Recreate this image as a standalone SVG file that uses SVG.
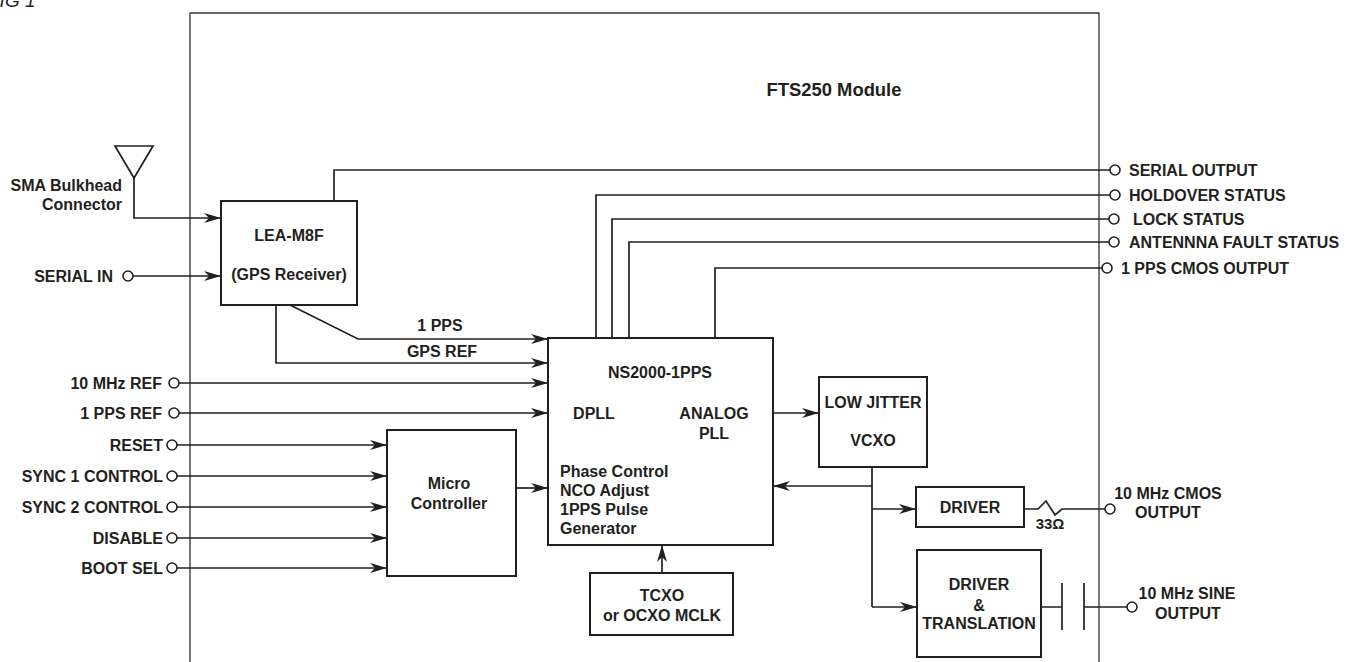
<svg xmlns="http://www.w3.org/2000/svg" width="1347" height="662" viewBox="0 0 1347 662">
<style>
text{font-family:"Liberation Sans",Arial,sans-serif;font-weight:bold;font-size:16px;fill:#231f20}
.c{text-anchor:middle}
.e{text-anchor:end}
.box{fill:#fff;stroke:#231f20;stroke-width:2}
.ln{fill:none;stroke:#231f20;stroke-width:1.7}
.ar{marker-end:url(#ah)}
.pin{fill:#fff;stroke:#231f20;stroke-width:1.6}
</style>
<defs>
<marker id="ah" markerUnits="userSpaceOnUse" markerWidth="18" markerHeight="12" refX="17" refY="6" orient="auto">
<path d="M0,1 L17,6 L0,11 L5,6 z" fill="#231f20"/>
</marker>
</defs>
<rect width="1347" height="662" fill="#fff"/>
<text x="-12" y="7" style="font-style:italic;font-weight:normal;font-size:19px">FIG 1</text>
<g id="frame">
<path d="M190,662 L190,13 L1099,13 L1099,662" fill="none" stroke="#333" stroke-width="1.3"/>
<text class="c" x="834" y="96" style="font-size:18.4px">FTS250 Module</text>
</g>
<g id="connectors">
<path class="ln ar" d="M134,178 L134,218 L221,218"/>
<path class="ln ar" d="M133,276 L221,276"/>
<path class="ln" d="M334,201 L334,170 L1110,170"/>
<path class="ln" d="M596,338 L596,195 L1110,195"/>
<path class="ln" d="M612,338 L612,219 L1109,219"/>
<path class="ln" d="M629,338 L629,242 L1109,242"/>
<path class="ln" d="M715,338 L715,268 L1102,268"/>
<path class="ln ar" d="M290,305 L358,339 L548,339"/>
<path class="ln ar" d="M276,305 L276,363 L548,363"/>
<text class="c" x="440" y="331">1 PPS</text>
<text class="c" x="442" y="357">GPS REF</text>
<path class="ln ar" d="M179,383 L548,383"/>
<path class="ln ar" d="M179,413 L548,413"/>
<path class="ln ar" d="M177,445 L387,445"/>
<path class="ln ar" d="M177,476 L387,476"/>
<path class="ln ar" d="M177,507 L387,507"/>
<path class="ln ar" d="M177,538 L387,538"/>
<path class="ln ar" d="M177,568 L387,568"/>
<path class="ln ar" d="M516,488 L548,488"/>
<path class="ln ar" d="M635,413 L667,413"/>
<path class="ln ar" d="M773,413 L819,413"/>
<path class="ln" d="M872,467 L872,607"/>
<path class="ln ar" d="M872,486 L773,486"/>
<path class="ln ar" d="M872,509 L916,509"/>
<path class="ln ar" d="M872,607 L917,607"/>
<path class="ln" d="M1024,509 L1038,509 L1046,501 L1055,515 L1062,509 L1105,509"/>
<path class="ln" d="M1041,607 L1062,607 M1062,583 L1062,630 M1084,583 L1084,630 M1084,607 L1127,607"/>
<path class="ln ar" d="M662,573 L662,545"/>
</g>
<g id="antenna">
<path d="M115,146 L153,146 L134,178 Z" fill="none" stroke="#231f20" stroke-width="1.7"/>
<text class="e" x="122" y="191">SMA Bulkhead</text>
<text class="e" x="122" y="210">Connector</text>
</g>
<g id="pins-left">
<circle class="pin" cx="128" cy="276" r="5"/><text class="e" x="113" y="282">SERIAL IN</text>
<circle class="pin" cx="174" cy="383" r="5"/><text class="e" x="162" y="389">10 MHz REF</text>
<circle class="pin" cx="174" cy="413" r="5"/><text class="e" x="162" y="419">1 PPS REF</text>
<circle class="pin" cx="172" cy="445" r="5"/><text class="e" x="163" y="451">RESET</text>
<circle class="pin" cx="172" cy="476" r="5"/><text class="e" x="163" y="482">SYNC 1 CONTROL</text>
<circle class="pin" cx="172" cy="507" r="5"/><text class="e" x="163" y="513">SYNC 2 CONTROL</text>
<circle class="pin" cx="172" cy="538" r="5"/><text class="e" x="163" y="544">DISABLE</text>
<circle class="pin" cx="172" cy="568" r="5"/><text class="e" x="163" y="574">BOOT SEL</text>
</g>
<g id="pins-right">
<circle class="pin" cx="1115" cy="170" r="5"/><text x="1129" y="176">SERIAL OUTPUT</text>
<circle class="pin" cx="1115" cy="195" r="5"/><text x="1129" y="201">HOLDOVER STATUS</text>
<circle class="pin" cx="1114" cy="219" r="5"/><text x="1133" y="225">LOCK STATUS</text>
<circle class="pin" cx="1114" cy="242" r="5"/><text x="1129" y="248">ANTENNNA FAULT STATUS</text>
<circle class="pin" cx="1107" cy="268" r="5"/><text x="1121" y="274">1 PPS CMOS OUTPUT</text>
<circle class="pin" cx="1110" cy="509" r="5"/>
<text class="c" x="1168" y="499">10 MHz CMOS</text><text class="c" x="1168" y="518">OUTPUT</text>
<circle class="pin" cx="1132" cy="607" r="5"/>
<text class="c" x="1187" y="599">10 MHz SINE</text><text class="c" x="1188" y="619">OUTPUT</text>
</g>
<g id="lea">
<rect class="box" x="221" y="201" width="136" height="104"/>
<text class="c" x="289" y="241">LEA-M8F</text>
<text class="c" x="289" y="280">(GPS Receiver)</text>
</g>
<g id="ns2000">
<rect class="box" x="548" y="338" width="225" height="207"/>
<text class="c" x="660" y="378">NS2000-1PPS</text>
<text class="c" x="594" y="419">DPLL</text>
<text class="c" x="714" y="419">ANALOG</text>
<text class="c" x="714" y="439">PLL</text>
<text x="560" y="477">Phase Control</text>
<text x="560" y="496">NCO Adjust</text>
<text x="560" y="515">1PPS Pulse</text>
<text x="560" y="534">Generator</text>
</g>
<g id="micro">
<rect class="box" x="387" y="430" width="129" height="146"/>
<text class="c" x="449" y="489">Micro</text>
<text class="c" x="449" y="509">Controller</text>
</g>
<g id="vcxo">
<rect class="box" x="819" y="377" width="108" height="90"/>
<text class="c" x="873" y="408">LOW JITTER</text>
<text class="c" x="873" y="446">VCXO</text>
</g>
<g id="driver">
<rect class="box" x="916" y="487" width="108" height="40"/>
<text class="c" x="970" y="513">DRIVER</text>
<text class="c" x="1050" y="529" style="font-size:15px">33Ω</text>
</g>
<g id="translation">
<rect class="box" x="917" y="550" width="124" height="107"/>
<text class="c" x="979" y="590">DRIVER</text>
<text class="c" x="979" y="611">&amp;</text>
<text class="c" x="979" y="629">TRANSLATION</text>
</g>
<g id="tcxo">
<rect class="box" x="590" y="573" width="143" height="62"/>
<text class="c" x="662" y="601">TCXO</text>
<text class="c" x="662" y="621">or OCXO MCLK</text>
</g>
</svg>
